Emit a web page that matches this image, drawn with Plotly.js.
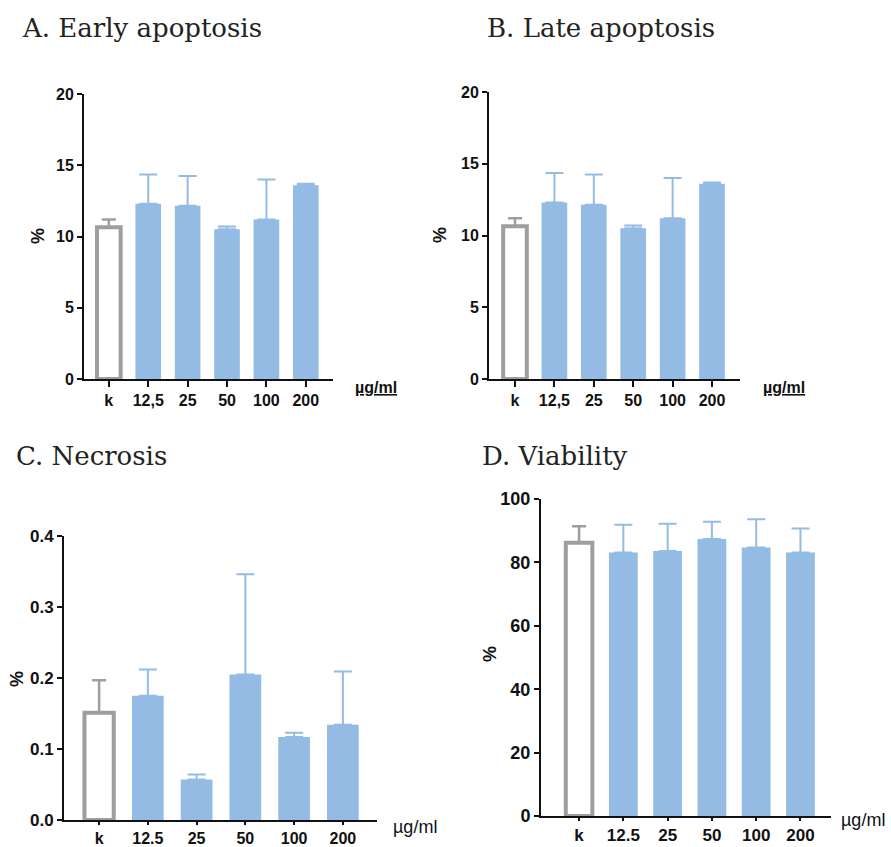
<!DOCTYPE html>
<html>
<head>
<meta charset="utf-8">
<script src="https://cdn.plot.ly/plotly-3.0.1.min.js"></script>
<style>html,body{margin:0;padding:0;background:#fff;}#chart{width:891px;height:847px;}</style>
</head>
<body>
<div id="chart"></div>
<script>
// ---- data ----
const labelsAB = ["k", "12,5", "25", "50", "100", "200"];
const labelsCD = ["k", "12.5", "25", "50", "100", "200"];

const earlyMean = [10.65, 12.3, 12.15, 10.5, 11.2, 13.6];
const earlyErr  = [0.55, 2.05, 2.1, 0.2, 2.8, 0.1];

const lateMean  = [10.65, 12.3, 12.15, 10.5, 11.2, 13.6];
const lateErr   = [0.55, 2.05, 2.1, 0.2, 2.8, 0.1];

const necrosisMean = [0.151, 0.175, 0.057, 0.205, 0.117, 0.134];
const necrosisErr  = [0.046, 0.037, 0.007, 0.141, 0.006, 0.075];

const viabilityMean = [86.2, 83.1, 83.6, 87.4, 84.7, 83.1];
const viabilityErr  = [5.2, 8.8, 8.6, 5.4, 8.9, 7.6];

const panelTitles = ["A. Early apoptosis", "B. Late apoptosis", "C. Necrosis", "D. Viability"];
const unitLabel = "µg/ml";
const yTitle = "%";

// ---- styling ----
const W = 891, H = 847;
const BLUE = "#94bbe3";
const GREY = "#9e9ea2";
const px = x => x / W;
const py = y => 1 - y / H;

const panels = [
  {labels: labelsAB, mean: earlyMean, err: earlyErr, x0: 84, x1: 333, yTop: 94, yBot: 379, xr: [-0.63, 5.69], yr: [0, 20], dtick: 5, fmt: "", fs: 16, xfs: 16, xlen: 6,
   title: [20, 28], pct: [38, 236], unit: [376, 387, true]},
  {labels: labelsAB, mean: lateMean, err: lateErr, x0: 489, x1: 740, yTop: 92, yBot: 379, xr: [-0.66, 5.71], yr: [0, 20], dtick: 5, fmt: "", fs: 16, xfs: 16, xlen: 6,
   title: [485, 28], pct: [440, 235], unit: [784, 387, true]},
  {labels: labelsCD, mean: necrosisMean, err: necrosisErr, x0: 64, x1: 377, yTop: 536, yBot: 820, xr: [-0.72, 5.70], yr: [0, 0.4], dtick: 0.1, fmt: ".1f", fs: 17, xfs: 16, xlen: 3,
   title: [14, 456], pct: [17, 679], unit: [415, 827, false]},
  {labels: labelsCD, mean: viabilityMean, err: viabilityErr, x0: 541, x1: 831, yTop: 499, yBot: 816, xr: [-0.86, 5.69], yr: [0, 100], dtick: 20, fmt: "", fs: 18, xfs: 17, xlen: 3,
   title: [480, 456], pct: [490, 654], unit: [863, 820, false]}
];

const traces = [];
const layout = {
  width: W, height: H,
  margin: {l: 0, r: 0, t: 0, b: 0},
  paper_bgcolor: "#fff", plot_bgcolor: "rgba(0,0,0,0)",
  showlegend: false,
  barmode: "overlay",
  annotations: []
};

panels.forEach((p, i) => {
  const n = i === 0 ? "" : String(i + 1);
  const xa = "x" + n, ya = "y" + n;
  traces.push({
    type: "bar", x: [p.labels[0]], y: [p.mean[0]], xaxis: xa, yaxis: ya, width: 0.6,
    marker: {color: "#ffffff", line: {color: GREY, width: 4}},
    error_y: {type: "data", array: [p.err[0]], arrayminus: [0], symmetric: false, color: GREY, thickness: 2.5, width: 7},
    hoverinfo: "skip"
  });
  traces.push({
    type: "bar", x: p.labels.slice(1), y: p.mean.slice(1), xaxis: xa, yaxis: ya, width: 0.65,
    marker: {color: BLUE, line: {width: 0}},
    error_y: {type: "data", array: p.err.slice(1), arrayminus: p.err.slice(1).map(() => 0), symmetric: false, color: BLUE, thickness: 2, width: 9},
    hoverinfo: "skip"
  });
  layout["xaxis" + n] = {
    domain: [px(p.x0), px(p.x1)], anchor: ya,
    type: "category", categoryorder: "array", categoryarray: p.labels,
    range: p.xr, showgrid: false, zeroline: false,
    showline: true, linecolor: "#111", linewidth: 2,
    ticks: "outside", ticklen: p.xlen, tickwidth: 2, tickcolor: "#111",
    tickfont: {family: "Liberation Sans, Arial, sans-serif", size: p.xfs, color: "#111", weight: "bold"},
    fixedrange: true
  };
  layout["yaxis" + n] = {
    domain: [py(p.yBot), py(p.yTop)], anchor: xa,
    range: p.yr, dtick: p.dtick, tick0: 0, tickformat: p.fmt,
    showgrid: false, zeroline: false,
    showline: true, linecolor: "#111", linewidth: 2,
    ticks: "outside", ticklen: 5, tickwidth: 2, tickcolor: "#111",
    tickfont: {family: "Liberation Sans, Arial, sans-serif", size: p.fs, color: "#111", weight: "bold"},
    fixedrange: true
  };
  layout.annotations.push({
    xref: "paper", yref: "paper", x: px(p.title[0]), y: py(p.title[1]), xanchor: "left", yanchor: "middle",
    text: panelTitles[i], showarrow: false,
    font: {family: "DejaVu Serif, serif", size: 26, color: "#222"}
  });
  layout.annotations.push({
    xref: "paper", yref: "paper", x: px(p.pct[0]), y: py(p.pct[1]), xanchor: "center", yanchor: "middle",
    text: yTitle, textangle: -90, showarrow: false,
    font: {family: "Liberation Sans, Arial, sans-serif", size: 18, color: "#111", weight: "bold"}
  });
  layout.annotations.push({
    xref: "paper", yref: "paper", x: px(p.unit[0]), y: py(p.unit[1]), xanchor: "center", yanchor: "middle",
    text: p.unit[2] ? "<u>" + unitLabel + "</u>" : unitLabel, showarrow: false,
    font: {family: "Liberation Sans, Arial, sans-serif", size: p.unit[2] ? 16 : 18, color: "#111", weight: p.unit[2] ? "bold" : "normal"}
  });
});

Plotly.newPlot("chart", traces, layout, {displayModeBar: false, staticPlot: true});
</script>
</body>
</html>
